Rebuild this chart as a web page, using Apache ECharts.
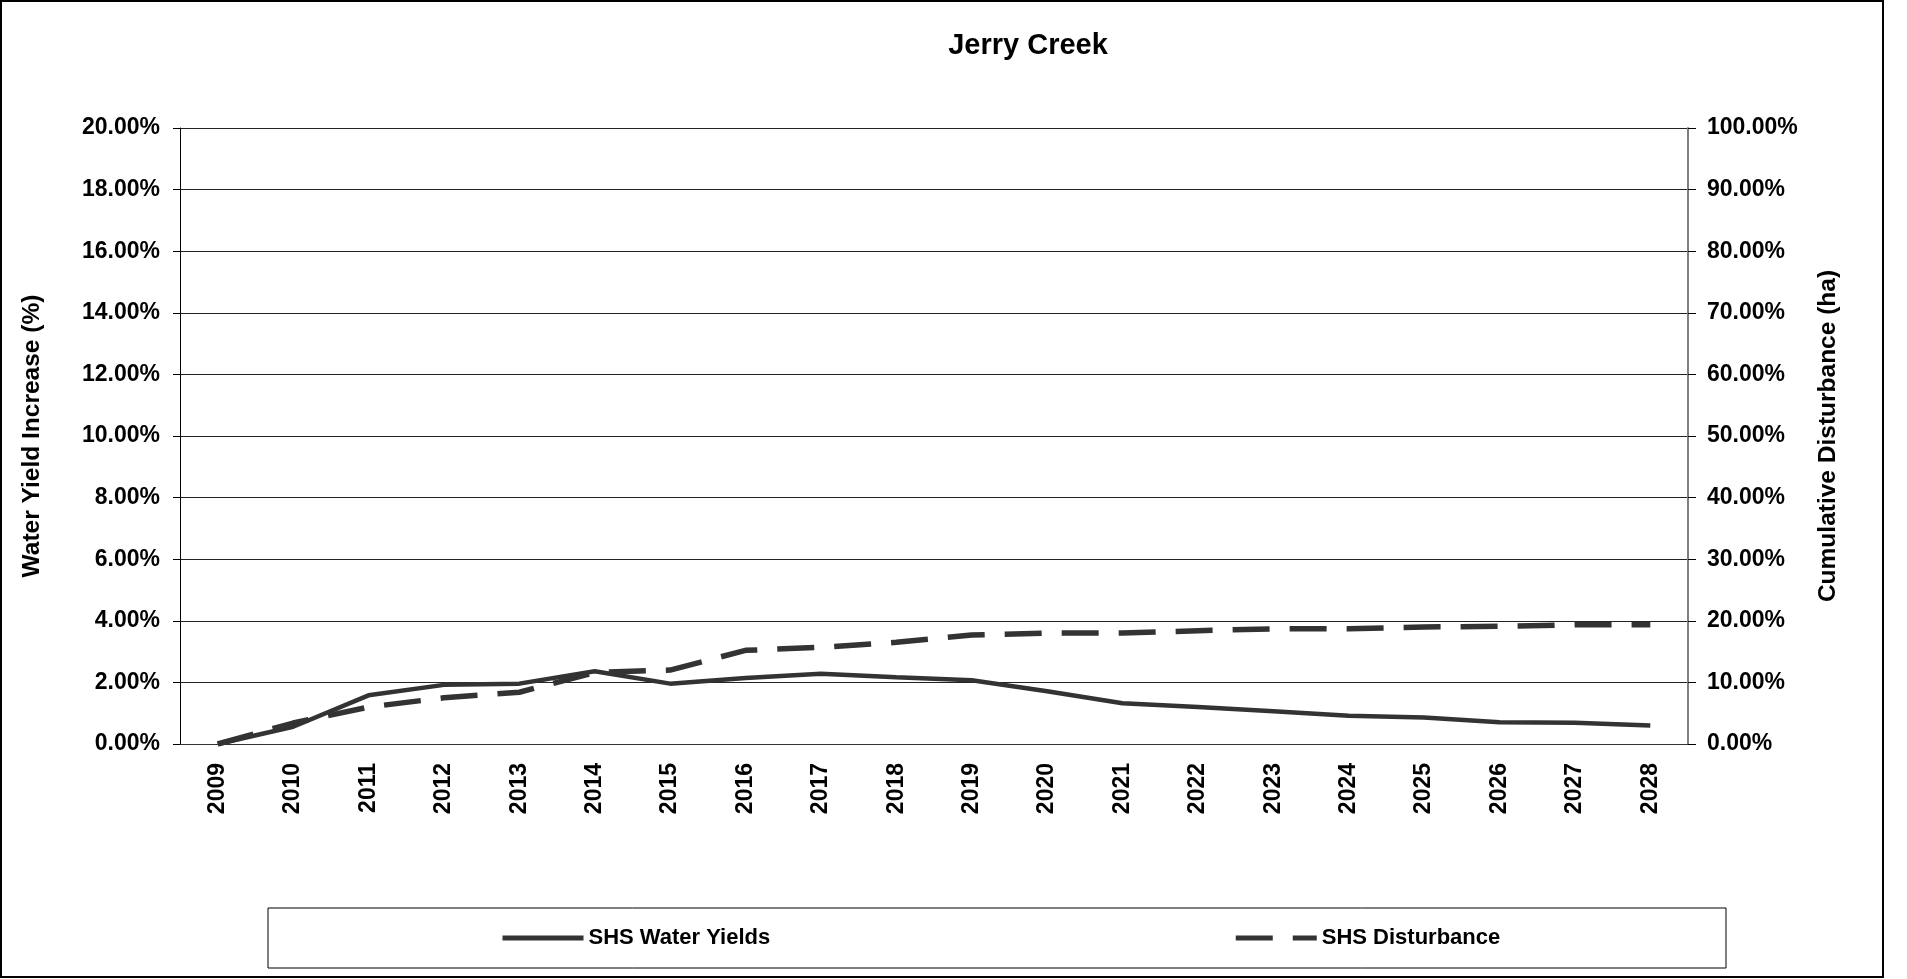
<!DOCTYPE html>
<html>
<head>
<meta charset="utf-8">
<title>Jerry Creek</title>
<script src="https://cdn.jsdelivr.net/npm/echarts@6/dist/echarts.min.js"></script>
<style>
  body { margin: 0; background: #fff; }
  #chart { width: 1907px; height: 979px; }
</style>
</head>
<body>
<div id="chart"></div>
<script>
let years = ['2009', '2010', '2011', '2012', '2013', '2014', '2015', '2016', '2017', '2018',
  '2019', '2020', '2021', '2022', '2023', '2024', '2025', '2026', '2027', '2028'];
// left axis, %
let waterYields = [0, 0.56, 1.58, 1.92, 1.96, 2.36, 1.96, 2.14, 2.28, 2.17,
  2.07, 1.71, 1.32, 1.2, 1.06, 0.92, 0.86, 0.71, 0.69, 0.6];
// right axis, %
let disturbance = [0, 3.4, 6.0, 7.5, 8.4, 11.6, 12.0, 15.2, 15.7, 16.5,
  17.7, 18.0, 18.0, 18.4, 18.7, 18.7, 19.0, 19.1, 19.35, 19.35];
let leftTicks = { min: 0, max: 20, interval: 2 };
let rightTicks = { min: 0, max: 100, interval: 10 };

let font = "'Liberation Sans', Arial, sans-serif";
let pct = v => v.toFixed(2) + '%';

let chart = echarts.init(document.getElementById('chart'));
chart.setOption({
  animation: false,
  backgroundColor: '#fff',
  textStyle: { fontFamily: font },
  title: {
    text: 'Jerry Creek',
    left: 1023,
    top: 26,
    textAlign: 'center',
    textStyle: { fontSize: 29, fontWeight: 'bold', color: '#000', fontFamily: font }
  },
  grid: { left: 180, top: 128, width: 1508, height: 616 },
  graphic: [
    {
      type: 'rect',
      shape: { x: 1, y: 1, width: 1882, height: 976 },
      style: { fill: 'none', stroke: '#000', lineWidth: 2 },
      silent: true
    },
    {
      type: 'rect',
      shape: { x: 268, y: 908, width: 1458, height: 60 },
      style: { fill: 'none', stroke: '#000', lineWidth: 1 },
      silent: true
    }
  ],
  legend: {
    left: 500,
    top: 927,
    padding: 0,
    itemWidth: 81,
    itemHeight: 20,
    itemGap: 463,
    itemStyle: { opacity: 0 },
    lineStyle: { width: 5 },
    textStyle: { fontSize: 22, fontWeight: 'bold', color: '#000', fontFamily: font },
    data: ['SHS Water Yields', 'SHS Disturbance']
  },
  xAxis: {
    type: 'category',
    data: years,
    boundaryGap: true,
    axisLine: { lineStyle: { color: '#333', width: 1 } },
    axisTick: { length: 7, lineStyle: { color: '#333' } },
    axisLabel: {
      rotate: 90,
      margin: 19,
      fontSize: 23,
      fontWeight: 'bold',
      color: '#000',
      fontFamily: font
    }
  },
  yAxis: [
    {
      type: 'value',
      min: leftTicks.min,
      max: leftTicks.max,
      interval: leftTicks.interval,
      position: 'left',
      name: 'Water Yield Increase (%)',
      nameLocation: 'middle',
      nameRotate: 90,
      nameGap: 135,
      nameTextStyle: { fontSize: 24.5, fontWeight: 'bold', color: '#000', fontFamily: font },
      axisLine: { show: true, lineStyle: { color: '#000', width: 1 } },
      axisTick: { show: true, length: 7, lineStyle: { color: '#000' } },
      axisLabel: {
        margin: 20,
        fontSize: 23,
        fontWeight: 'bold',
        color: '#000',
        fontFamily: font,
        formatter: pct
      },
      splitLine: { show: true, lineStyle: { color: '#222', width: 1 } }
    },
    {
      type: 'value',
      min: rightTicks.min,
      max: rightTicks.max,
      interval: rightTicks.interval,
      position: 'right',
      name: 'Cumulative Disturbance (ha)',
      nameLocation: 'middle',
      nameRotate: 90,
      nameGap: 128,
      nameTextStyle: { fontSize: 24.5, fontWeight: 'bold', color: '#000', fontFamily: font },
      axisLine: { show: true, lineStyle: { color: '#808080', width: 2 } },
      axisTick: { show: true, length: 8, lineStyle: { color: '#000' } },
      axisLabel: {
        margin: 19,
        fontSize: 23,
        fontWeight: 'bold',
        color: '#000',
        fontFamily: font,
        formatter: pct
      },
      splitLine: { show: false }
    }
  ],
  series: [
    {
      name: 'SHS Water Yields',
      type: 'line',
      yAxisIndex: 0,
      data: waterYields,
      symbol: 'none',
      lineStyle: { color: '#333', width: 4.5 },
      itemStyle: { color: '#333' }
    },
    {
      name: 'SHS Disturbance',
      type: 'line',
      yAxisIndex: 1,
      data: disturbance,
      symbol: 'none',
      lineStyle: { color: '#333', width: 5.5, type: [37, 20] },
      itemStyle: { color: '#333' }
    }
  ]
});
</script>
</body>
</html>
